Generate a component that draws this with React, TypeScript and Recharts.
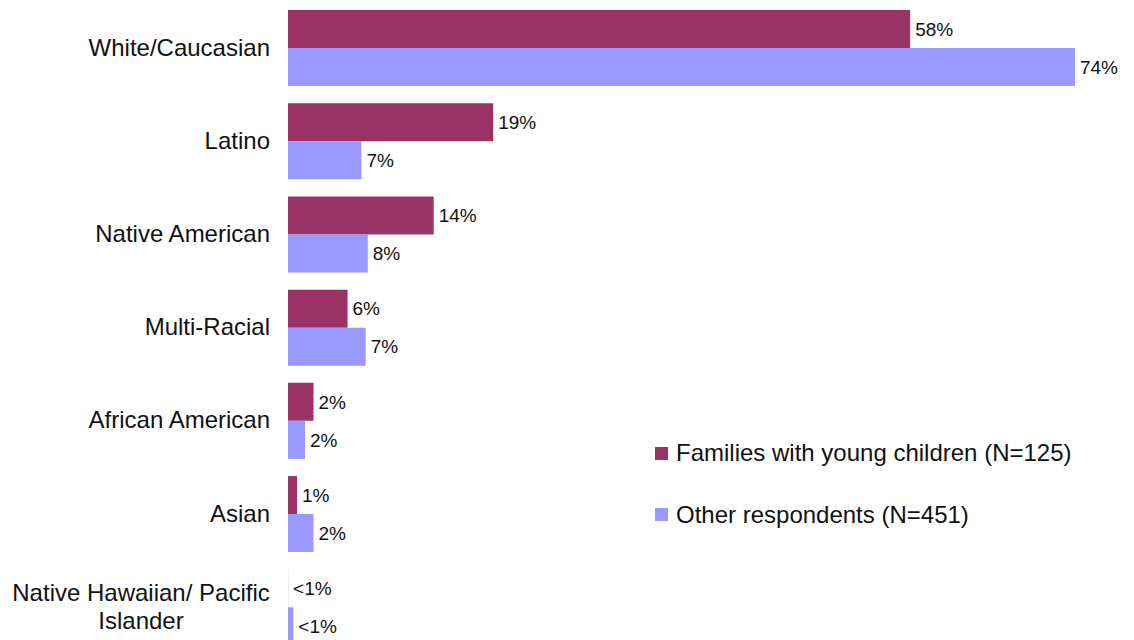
import React from "react";
import { BarChart, Bar, XAxis, YAxis, LabelList } from "recharts";

const categories = [
  "White/Caucasian",
  "Latino",
  "Native American",
  "Multi-Racial",
  "African American",
  "Asian",
  "Native Hawaiian/ Pacific Islander",
];
const familiesValues = [58.5, 19.3, 13.7, 5.6, 2.4, 0.85, 0.01];
const otherValues = [74, 6.9, 7.5, 7.3, 1.6, 2.4, 0.5];
const familiesLabels = ["58%", "19%", "14%", "6%", "2%", "1%", "<1%"];
const otherLabels = ["74%", "7%", "8%", "7%", "2%", "2%", "<1%"];
const seriesNames = ["Families with young children (N=125)", "Other respondents (N=451)"];
const colors = ["#993366", "#9999FF"];

const data = categories.map((name, i) => ({
  name,
  families: familiesValues[i],
  other: otherValues[i],
  familiesLabel: familiesLabels[i],
  otherLabel: otherLabels[i],
}));

const FONT = "'Liberation Sans', Arial, sans-serif";

const YTick = (props: any) => {
  const { x, y, payload } = props;
  const label: string = payload.value;
  if (label.length > 20) {
    const cut = label.lastIndexOf(" ");
    const l1 = label.slice(0, cut);
    const l2 = label.slice(cut + 1);
    const cx = x - 129;
    return (
      <text textAnchor="middle" fontSize={24} fill="#111" fontFamily={FONT}>
        <tspan x={cx} y={y - 5.5}>{l1}</tspan>
        <tspan x={cx} y={y + 22.5}>{l2}</tspan>
      </text>
    );
  }
  return (
    <text x={x} y={y} dy={8} textAnchor="end" fontSize={24} fill="#111" fontFamily={FONT}>
      {label}
    </text>
  );
};

export default function App() {
  return (
    <div style={{ position: "absolute", left: 0, top: 0, width: 1134, height: 640, overflow: "hidden", background: "#fff" }}>
      <BarChart
        width={1134}
        height={660}
        data={data}
        layout="vertical"
        margin={{ top: 1, right: 16.5, bottom: 6.5, left: 0 }}
        barCategoryGap={9}
        barGap={0}
        style={{ fontFamily: FONT }}
      >
        <XAxis type="number" domain={[0, 78]} hide />
        <YAxis
          type="category"
          dataKey="name"
          width={288}
          axisLine={false}
          tickLine={false}
          tickMargin={12}
          tick={<YTick />}
          interval={0}
        />
        <Bar dataKey="families" name={seriesNames[0]} fill={colors[0]} isAnimationActive={false}>
          <LabelList dataKey="familiesLabel" position="right" offset={5} fontSize={19} fill="#111" fontFamily={FONT} />
        </Bar>
        <Bar dataKey="other" name={seriesNames[1]} fill={colors[1]} isAnimationActive={false}>
          <LabelList dataKey="otherLabel" position="right" offset={5} fontSize={19} fill="#111" fontFamily={FONT} />
        </Bar>
      </BarChart>
      <div style={{ position: "absolute", left: 655, top: 437, fontFamily: FONT, fontSize: 24, color: "#111", whiteSpace: "nowrap" }}>
        {seriesNames.map((n, i) => (
          <div key={n} style={{ display: "flex", alignItems: "center", height: 32, marginBottom: i === 0 ? 29.5 : 0 }}>
            <span style={{ display: "inline-block", width: 13, height: 13, background: colors[i], marginRight: 8 }} />
            <span>{n}</span>
          </div>
        ))}
      </div>
    </div>
  );
}
